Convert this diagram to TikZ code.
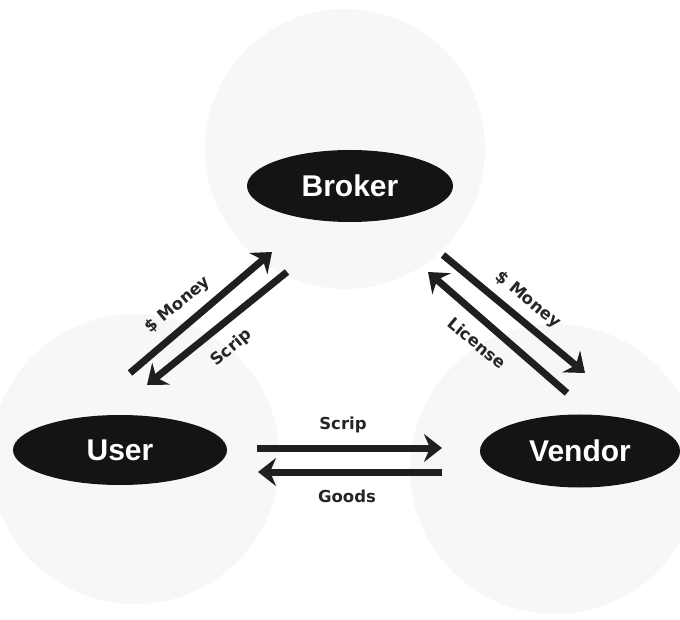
\documentclass[tikz,border=0pt]{standalone}
\usepackage{fontspec}
\setmainfont{Liberation Sans}
\newfontfamily\lblfont{DejaVu Sans}
\usetikzlibrary{shapes.geometric,arrows.meta}
\begin{document}
\begin{tikzpicture}[x=1pt,y=1pt,
  halo/.style={fill=gray!6,draw=none},
  party/.style={ellipse,fill=black!92,text=white,font=\bfseries\fontsize{30}{34}\selectfont,inner sep=0pt},
  flow/.style={line width=7pt,draw=black!88,-{Stealth[length=18pt,width=28pt,inset=6pt]}},
  lbl/.style={font=\lblfont\bfseries\fontsize{16.5}{19}\selectfont,text=black!85,inner sep=0pt}]
\useasboundingbox (0,0) rectangle (680,619);
% faint background halos
\fill[halo] (345,470) circle (140);
\fill[halo] (135,160) circle (145);
\fill[halo] (555,150) circle (145);
% parties
\node[party,minimum width=206pt,minimum height=72pt] (broker) at (350,433) {Broker};
\node[party,minimum width=214pt,minimum height=70pt] (user) at (120,169) {User};
\node[party,minimum width=200pt,minimum height=73pt] (vendor) at (580,168) {Vendor};
% endpoints
\coordinate (a1) at (130,246); \coordinate (a2) at (272,367);
\coordinate (b1) at (287,347); \coordinate (b2) at (147,234);
\coordinate (c1) at (443,364); \coordinate (c2) at (585,246);
\coordinate (d1) at (567,226); \coordinate (d2) at (428,347);
\coordinate (e1) at (257,171); \coordinate (e2) at (442,171);
\coordinate (f1) at (442,147); \coordinate (f2) at (258,147);
% flows
\draw[flow] (a1) -- (a2);
\draw[flow] (b1) -- (b2);
\draw[flow] (c1) -- (c2);
\draw[flow] (d1) -- (d2);
\draw[flow] (e1) -- (e2);
\draw[flow] (f1) -- (f2);
% labels
\node[lbl,rotate=40] (lm) at (178,314) {\$ Money};
\node[lbl,rotate=40] (ls) at (232,271) {Scrip};
\node[lbl,rotate=-40] (rm) at (528,319) {\$ Money};
\node[lbl,rotate=-40] (rl) at (477,276) {License};
\node[lbl] (bs) at (343,194) {Scrip};
\node[lbl] (bg) at (347,123) {Goods};
\end{tikzpicture}
\end{document}
